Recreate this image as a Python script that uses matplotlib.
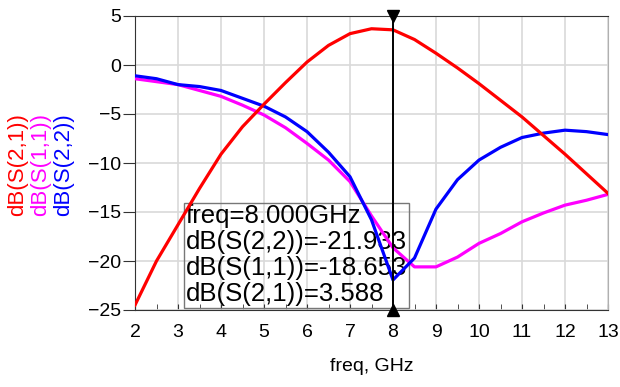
import matplotlib
matplotlib.use("Agg")
import matplotlib.pyplot as plt
from matplotlib.ticker import MultipleLocator

plt.rcParams["font.family"] = ["Liberation Sans", "DejaVu Sans"]

freq = [2.0, 2.5, 3.0, 3.5, 4.0, 4.5, 5.0, 5.5, 6.0, 6.5, 7.0, 7.5,
        8.0, 8.5, 9.0, 9.5, 10.0, 10.5, 11.0, 11.5, 12.0, 12.5, 13.0]

s21 = [-24.5, -20.0, -16.3, -12.6, -9.1, -6.3, -4.0, -1.8, 0.3, 2.0, 3.2, 3.7,
       3.588, 2.6, 1.2, -0.3, -1.9, -3.6, -5.3, -7.2, -9.1, -11.1, -13.1]

s11 = [-1.4, -1.7, -2.0, -2.6, -3.2, -4.1, -5.1, -6.4, -8.0, -9.7, -11.9, -15.4,
       -18.653, -20.6, -20.6, -19.6, -18.2, -17.2, -16.0, -15.1, -14.3, -13.8, -13.2]

s22 = [-1.1, -1.4, -2.0, -2.2, -2.6, -3.4, -4.2, -5.3, -6.8, -8.9, -11.4, -15.8,
       -21.933, -19.7, -14.7, -11.7, -9.7, -8.4, -7.4, -6.95, -6.65, -6.8, -7.1]

marker_freq = 8.0
readout = ["freq=8.000GHz",
           "dB(S(2,2))=-21.933",
           "dB(S(1,1))=-18.653",
           "dB(S(2,1))=3.588"]

RED = "#ff0000"
MAGENTA = "#ff00ff"
BLUE = "#0000ff"

fig = plt.figure(figsize=(6.2, 3.87), dpi=100)
ax = fig.add_axes([135 / 620, 1 - 310 / 387, 473 / 620, 294 / 387])

ax.plot(freq, s11, color=MAGENTA, lw=2.3, zorder=3)
ax.plot(freq, s22, color=BLUE, lw=2.3, zorder=4)
ax.plot(freq, s21, color=RED, lw=2.3, zorder=5)

ax.set_xlim(2, 13)
ax.set_ylim(-25, 5)
ax.xaxis.set_major_locator(MultipleLocator(1))
ax.xaxis.set_minor_locator(MultipleLocator(0.5))
ax.yaxis.set_major_locator(MultipleLocator(5))
ax.grid(True, which="major", color="#d9d9d9", lw=1.2, zorder=0)
ax.set_axisbelow(True)

ax.tick_params(axis="x", which="both", direction="in", length=4, color="#333333",
               labelsize=14, pad=10)
ax.tick_params(axis="y", which="major", direction="out", length=9, color="#333333",
               labelsize=14, pad=1)
for side in ["left", "bottom", "top"]:
    ax.spines[side].set_color("#333333")
ax.spines["right"].set_color("#b0b0b0")

ax.set_xlabel("freq, GHz", fontsize=14, labelpad=12)

# marker line with triangles
ax.axvline(marker_freq, color="black", lw=1.4, zorder=6)
ax.plot([marker_freq], [5], marker="v", color="black", ms=8, clip_on=False, zorder=7)
ax.plot([marker_freq], [-25], marker="^", color="black", ms=8, clip_on=False, zorder=7)

ax.text(3.18, -24.6, "\n".join(readout), fontsize=18.5, va="bottom", ha="left",
        linespacing=1.1, zorder=2,
        bbox=dict(boxstyle="square,pad=0.06", facecolor="none", edgecolor="#777777", lw=1))

# stacked y labels
for xp, txt, col in [(18, "dB(S(2,1))", RED), (41, "dB(S(1,1))", MAGENTA), (64, "dB(S(2,2))", BLUE)]:
    fig.text(xp / 620, 1 - 165 / 387, txt, rotation=90, color=col, fontsize=16,
             ha="center", va="center")

fig.savefig("out.png", dpi=100)
